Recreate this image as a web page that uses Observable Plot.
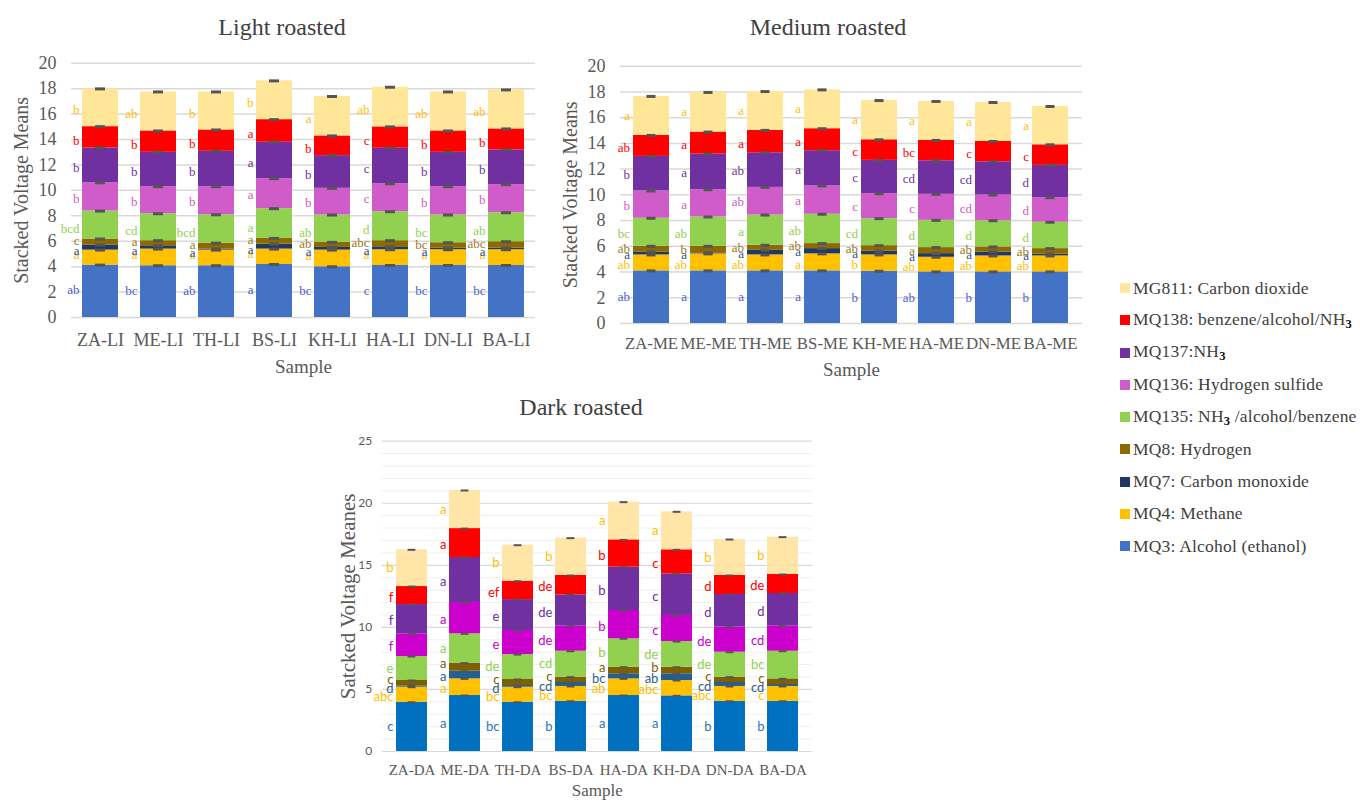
<!DOCTYPE html>
<html><head><meta charset="utf-8">
<script src="https://cdn.jsdelivr.net/npm/d3@7"></script>
<script src="https://cdn.jsdelivr.net/npm/@observablehq/plot@0.6"></script>
<style>
body{margin:0;background:#fff}
#wrap{position:relative;width:1360px;height:803px;overflow:hidden;background:#fff;font-family:"Liberation Serif","Times New Roman",serif}
.title{position:absolute;font-size:24px;color:#404040;transform:translateX(-50%);white-space:nowrap;line-height:1}
.panel{position:absolute}
.panel svg text{font-family:"Liberation Serif","Times New Roman",serif}
#legend{position:absolute;left:1120px;top:272px;font-size:17.5px;color:#404040;letter-spacing:0.2px}
#legend .item{height:32.25px;display:flex;align-items:center;white-space:nowrap}
#legend .sw{width:10px;height:10px;margin-right:3px;flex:none}
#legend sub{font-weight:bold;color:#111;font-size:12.5px;vertical-align:-3px}
.lm [aria-label="x-axis tick label"]{font-size:18px;fill:#595959}
#p2 [aria-label="x-axis tick label"]{font-size:16.8px}
.lm [aria-label="y-axis tick label"]{font-size:18px;fill:#595959}
.lm [aria-label="x-axis label"]{font-size:19px;fill:#595959}
.lm [aria-label="y-axis label"]{font-size:20px;fill:#595959}
.dk [aria-label="x-axis tick label"]{font-size:15px;fill:#595959}
.dk [aria-label="y-axis tick label"]{font-size:12px;fill:#595959}
.dk [aria-label="x-axis label"]{font-size:17px;fill:#595959}
.dk [aria-label="y-axis label"]{font-size:21px;fill:#595959}
</style>
</head><body>
<div id="wrap">
  <div class="title" style="left:282px;top:15px">Light roasted</div>
  <div class="title" style="left:828px;top:15px">Medium roasted</div>
  <div class="title" style="left:581px;top:395px">Dark roasted</div>
  <div class="panel lm" id="p1" style="left:0px;top:40px"></div>
  <div class="panel lm" id="p2" style="left:550px;top:40px"></div>
  <div class="panel dk" id="p3" style="left:330px;top:420px"></div>
  <div id="legend"></div>
</div>
<script>
// sensors, bottom to top of each stack
const sensors = ["MQ3","MQ4","MQ7","MQ8","MQ135","MQ136","MQ137","MQ138","MG811"];

// Light roasted
const lightSamples = ["ZA-LI","ME-LI","TH-LI","BS-LI","KH-LI","HA-LI","DN-LI","BA-LI"];
const lightValues = [
  [4.12,1.18,0.40,0.47,2.20,2.23,2.73,1.68,2.97],
  [4.07,1.31,0.26,0.40,2.12,2.13,2.70,1.68,3.07],
  [4.07,1.23,0.08,0.47,2.23,2.21,2.78,1.68,2.99],
  [4.17,1.21,0.39,0.45,2.34,2.36,2.86,1.78,3.05],
  [3.99,1.31,0.21,0.40,2.15,2.10,2.57,1.55,3.10],
  [4.09,1.24,0.23,0.48,2.28,2.20,2.79,1.68,3.12],
  [4.09,1.24,0.13,0.42,2.18,2.23,2.70,1.68,3.07],
  [4.09,1.24,0.13,0.50,2.28,2.21,2.73,1.65,3.07]
];
const lightLetters = [
  ["ab","a","a","c","bcd","b","b","b","b"],
  ["bc","a","a","a","cd","b","b","b","ab"],
  ["ab","a","a","a","bcd","b","b","b","b"],
  ["a","a","a","a","a","a","a","a","b"],
  ["bc","a","a","ab","ab","b","b","b","a"],
  ["c","a","a","abc","d","c","c","c","ab"],
  ["bc","a","a","bc","bc","b","b","b","ab"],
  ["bc","a","a","abc","ab","b","b","b","ab"]
];

// Medium roasted
const mediumSamples = ["ZA-ME","ME-ME","TH-ME","BS-ME","KH-ME","HA-ME","DN-ME","BA-ME"];
const mediumValues = [
  [4.09,1.24,0.23,0.44,2.18,2.12,2.69,1.63,3.03],
  [4.09,1.32,0.08,0.51,2.28,2.12,2.77,1.71,3.08],
  [4.09,1.24,0.36,0.39,2.35,2.15,2.69,1.74,3.02],
  [4.09,1.32,0.41,0.39,2.28,2.20,2.74,1.71,3.02],
  [4.06,1.27,0.28,0.44,2.10,1.94,2.59,1.60,3.05],
  [4.01,1.14,0.28,0.47,2.12,2.02,2.61,1.58,3.03],
  [4.01,1.24,0.31,0.39,2.04,2.00,2.58,1.58,3.03],
  [4.01,1.24,0.13,0.44,2.05,1.91,2.51,1.60,2.98]
];
const mediumLetters = [
  ["ab","ab","a","ab","bc","b","b","ab","a"],
  ["a","ab","a","b","ab","a","a","a","a"],
  ["a","ab","a","ab","a","ab","ab","a","a"],
  ["a","a","a","ab","ab","a","a","a","a"],
  ["b","b","a","ab","cd","c","c","c","a"],
  ["ab","ab","a","a","d","c","cd","bc","a"],
  ["b","ab","a","ab","d","cd","cd","c","a"],
  ["b","ab","a","ab","d","d","d","c","a"]
];

// Dark roasted
const darkSamples = ["ZA-DA","ME-DA","TH-DA","BS-DA","HA-DA","KH-DA","DN-DA","BA-DA"];
const darkValues = [
  [3.97,1.21,0.11,0.43,1.93,1.83,2.36,1.45,2.96],
  [4.51,1.34,0.62,0.65,2.36,2.52,3.63,2.33,3.07],
  [3.97,1.21,0.14,0.48,2.01,1.94,2.49,1.48,2.90],
  [4.05,1.19,0.32,0.43,2.09,2.02,2.52,1.56,3.01],
  [4.51,1.34,0.41,0.53,2.29,2.28,3.49,2.20,3.04],
  [4.48,1.24,0.54,0.53,2.07,2.10,3.35,1.94,3.06],
  [4.05,1.19,0.32,0.43,2.01,2.02,2.63,1.53,2.90],
  [4.05,1.19,0.16,0.45,2.23,2.02,2.63,1.53,3.01]
];
const darkLetters = [
  ["c","abc","d","c","e","f","f","f","b"],
  ["a","a","a","a","a","a","a","a","a"],
  ["bc","bc","d","c","de","e","e","ef","b"],
  ["b","bc","cd","c","cd","de","de","de","b"],
  ["a","ab","bc","a","b","b","b","b","a"],
  ["a","abc","ab","b","de","c","c","c","a"],
  ["b","abc","cd","c","de","de","d","d","b"],
  ["b","c","cd","c","bc","cd","d","de","b"]
];

// axis ticks
const lightTicks = [0,2,4,6,8,10,12,14,16,18,20];
const darkTicks = [0,5,10,15,20,25];
const darkMinorTicks = [1,2,3,4,6,7,8,9,11,12,13,14,16,17,18,19,21,22,23,24];

// legend (top to bottom)
const legendKeys = ["MG811","MQ138","MQ137","MQ136","MQ135","MQ8","MQ7","MQ4","MQ3"];
const legendLabels = [
  "MG811: Carbon dioxide",
  "MQ138: benzene/alcohol/NH<sub>3</sub>",
  "MQ137:NH<sub>3</sub>",
  "MQ136: Hydrogen sulfide",
  "MQ135: NH<sub>3</sub> /alcohol/benzene",
  "MQ8: Hydrogen",
  "MQ7: Carbon monoxide",
  "MQ4: Methane",
  "MQ3: Alcohol (ethanol)"
];

// styles
const lmColors = ["#4472C4","#FFC000","#203864","#8C6A00","#92D050","#CF5CC8","#7030A0","#FF0000","#FFE699"];
const lmLetterColors = ["#4E5ED2","#FFC000","#2F4F8F","#9C7A1C","#92D050","#CF5CC8","#7030A0","#FF0000","#FFC000"];
const dkColors = ["#0070C0","#FFC000","#255E91","#7F6000","#92D050","#CC00CC","#7030A0","#FF0000","#FFE5A8"];
const dkLetterColors = ["#2E75B6","#FFC000","#2E5F8E","#7F6000","#92D050","#CC00CC","#7030A0","#FF0000","#FFC000"];

function rowsOf(samples, values, letters) {
  const rows = [];
  samples.forEach((s, i) => {
    let cum = 0;
    sensors.forEach((k, j) => {
      const y0 = cum; cum += values[i][j];
      rows.push({sample: s, sensor: k, j, value: values[i][j], y0, y1: cum, letter: letters[i][j]});
    });
  });
  return rows;
}

function panel(o) {
  const rows = rowsOf(o.samples, o.values, o.letters);
  const xs = d3.scaleBand().domain(o.samples).range([o.ml, o.width - o.mr]).paddingInner(o.pad).paddingOuter(o.pad/2);
  const bw = xs.bandwidth();
  const marks = [];
  if (o.minor) marks.push(Plot.ruleY(o.minor, {stroke: "#efefef", strokeWidth: 1}));
  marks.push(Plot.ruleY(o.ticks, {stroke: "#d9d9d9", strokeWidth: o.gridW}));
  marks.push(Plot.barY(rows, Plot.stackY({x: "sample", y: "value", fill: "sensor"})));
  marks.push(Plot.tickY(rows, Plot.stackY2({x: "sample", y: "value", stroke: "#555", strokeWidth: o.capW, insetLeft: (bw - o.cap)/2, insetRight: (bw - o.cap)/2})));
  sensors.forEach((k, j) => {
    marks.push(Plot.text(rows.filter(r => r.j === j), {
      x: "sample", y: r => (r.y0 + r.y1) / 2, text: "letter",
      fill: o.letterColors[j], dx: -(bw/2 + 3), dy: o.letterDy[j],
      textAnchor: "end", fontSize: o.letterSize, fontFamily: o.letterFont
    }));
  });
  return Plot.plot({
    width: o.width, height: o.height,
    marginLeft: o.ml, marginRight: o.mr, marginTop: o.mt, marginBottom: o.mb,
    style: {fontFamily: '"Liberation Serif", serif', fontSize: "18px", color: "#595959", background: "transparent", overflow: "visible"},
    x: {domain: o.samples, paddingInner: o.pad, paddingOuter: o.pad/2, tickSize: 0, tickPadding: o.xtp, label: "Sample", labelAnchor: "center", labelOffset: o.xlo, labelArrow: false},
    y: {domain: [0, o.ymax], ticks: o.ticks, tickSize: 0, tickPadding: o.ytp, label: o.ylabel, labelAnchor: "center", labelOffset: o.ylo, labelArrow: false, tickFormat: d => String(d)},
    color: {domain: sensors, range: o.colors},
    marks
  });
}

document.getElementById("p1").appendChild(panel({
  samples: lightSamples, values: lightValues, letters: lightLetters,
  width: 560, height: 345, ml: 71, mr: 25, mt: 22.7, mb: 68, ymax: 20, ticks: lightTicks,
  pad: 0.38, cap: 10, capW: 3, gridW: 1.5, colors: lmColors, letterColors: lmLetterColors,
  letterDy: [-1,-3,3,-1,4,1.5,2.5,3,2.5], letterSize: 13, letterFont: '"Liberation Serif", serif',
  xtp: 16, xlo: 55, ytp: 15, ylo: 58, ylabel: "Stacked Voltage Means"
}));
document.getElementById("p2").appendChild(panel({
  samples: mediumSamples, values: mediumValues, letters: mediumLetters,
  width: 560, height: 350, ml: 70, mr: 28, mt: 25.7, mb: 67, ymax: 20, ticks: lightTicks,
  pad: 0.36, cap: 10, capW: 3, gridW: 1.5, colors: lmColors, letterColors: lmLetterColors,
  letterDy: [0,2,1,0,2,1,1,2,0], letterSize: 13, letterFont: '"Liberation Serif", serif',
  xtp: 14, xlo: 52, ytp: 15, ylo: 58, ylabel: "Stacked Voltage Means"
}));
document.getElementById("p3").appendChild(panel({
  samples: darkSamples, values: darkValues, letters: darkLetters,
  width: 500, height: 383, ml: 51.7, mr: 18.3, mt: 20.7, mb: 52, ymax: 25, ticks: darkTicks, minor: darkMinorTicks,
  pad: 0.42, cap: 8, capW: 2, gridW: 1.2, colors: dkColors, letterColors: dkLetterColors,
  letterDy: [0,2,2,-3,0,2,2,2,0], letterSize: 13, letterFont: 'Lato, sans-serif',
  xtp: 13, xlo: 44, ytp: 10, ylo: 42, ylabel: "Satcked Voltage Meanes"
}));

// sans face for the dark panel's y tick labels and letters (as in the reference)
document.querySelectorAll('#p3 [aria-label="y-axis tick label"] text').forEach(t => t.style.fontFamily = "Lato, sans-serif");
document.querySelectorAll('#p3 [aria-label="text"] text').forEach(t => t.style.fontFamily = "Lato, sans-serif");

const lg = document.getElementById("legend");
legendKeys.forEach((k, i) => {
  const it = document.createElement("div");
  it.className = "item";
  it.innerHTML = `<span class="sw" style="background:${lmColors[sensors.indexOf(k)]}"></span><span>${legendLabels[i]}</span>`;
  lg.appendChild(it);
});
</script>
</body></html>
